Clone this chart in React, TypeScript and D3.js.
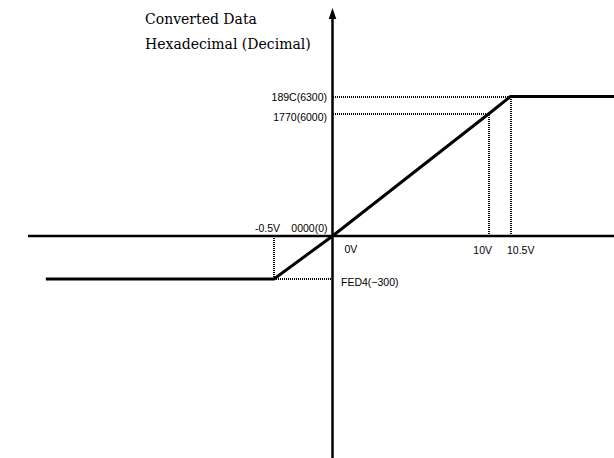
import React from "react";
import * as d3 from "d3";

// Input voltage (V) breakpoints of the conversion characteristic
const voltageIn = [-2.45, -0.5, 0, 10, 10.5, 13];
// Converted digital output (decimal) at each breakpoint
const outputVal = [-300, -300, 0, 6000, 6300, 6300];

// Reference markers on the voltage axis
const voltTicks = [-0.5, 10, 10.5];
const voltLabels = ["-0.5V", "10V", "10.5V"];

// Reference markers on the output axis
const outTicks = [6300, 6000, -300];
const outLabels = ["189C(6300)", "1770(6000)", "FED4(\u2212300)"];

const titleLines = ["Converted Data", "Hexadecimal (Decimal)"];

const W = 614;
const H = 458;

// Schematic (piecewise) scales: the diagram is not drawn to scale
const x = d3
  .scaleLinear()
  .domain([-0.5, 0, 10, 10.5])
  .range([274, 332.5, 488.5, 510.5]);

const y = d3
  .scaleLinear()
  .domain([-300, 0, 6000, 6300])
  .range([279, 236, 114, 96.5]);

const SANS = "'Liberation Sans', Arial, sans-serif";
const SERIF = "'DejaVu Serif', serif";

export default function App() {
  const x0 = x(0);
  const y0 = y(0);

  const pts: [number, number][] = voltageIn.map((v, i) => [x(v), y(outputVal[i])]);
  const line = d3.line<[number, number]>()(pts) ?? "";

  const dotted = {
    stroke: "#000",
    strokeWidth: 2,
    strokeDasharray: "1 1",
    fill: "none",
    shapeRendering: "crispEdges" as const,
  };

  // Points on the characteristic where guide lines are dropped
  const guides = voltTicks.map((v) => {
    const idx = voltageIn.indexOf(v);
    return { v, out: outputVal[idx] };
  });

  const r = Math.round;

  return (
    <svg
      width={W}
      height={H}
      style={{ position: "absolute", left: 0, top: 0, background: "#fff" }}
    >
      {/* title */}
      {titleLines.map((t, i) => (
        <text
          key={t}
          x={145}
          y={24 + i * 25}
          fontFamily={SERIF}
          fontSize={14}
          fill="#000"
        >
          {t}
        </text>
      ))}

      {/* guide lines */}
      {guides.map((g) => (
        <g key={g.v}>
          <line x1={r(x(g.v))} x2={r(x(g.v))} y1={r(y0)} y2={r(y(g.out))} {...dotted} />
          <line x1={r(x0)} x2={r(x(g.v))} y1={r(y(g.out))} y2={r(y(g.out))} {...dotted} />
        </g>
      ))}

      {/* axes */}
      <line x1={28} x2={W} y1={y0} y2={y0} stroke="#000" strokeWidth={2.5} />
      <line x1={x0} x2={x0} y1={16} y2={H} stroke="#000" strokeWidth={2.5} />
      <path
        d={`M${x0},8 L${x0 - 3.8},19 L${x0 + 3.8},19 Z`}
        fill="#000"
      />

      {/* characteristic */}
      <path d={line} fill="none" stroke="#000" strokeWidth={3} strokeLinejoin="miter" />

      {/* voltage labels */}
      <text x={x(-0.5) + 6} y={y0 - 4} textAnchor="end" fontFamily={SANS} fontSize={10.5}>
        {voltLabels[0]}
      </text>
      <text x={x(10) + 3.5} y={y0 + 18} textAnchor="end" fontFamily={SANS} fontSize={10.5}>
        {voltLabels[1]}
      </text>
      <text x={x(10.5) - 3.5} y={y0 + 18} textAnchor="start" fontFamily={SANS} fontSize={10.5}>
        {voltLabels[2]}
      </text>
      <text x={x0 + 12} y={y0 + 17} textAnchor="start" fontFamily={SANS} fontSize={10.5}>
        0V
      </text>

      {/* output labels */}
      <text x={x0 - 5} y={y0 - 4} textAnchor="end" fontFamily={SANS} fontSize={10.5}>
        0000(0)
      </text>
      <text x={x0 - 5.5} y={y(outTicks[0]) + 4.5} textAnchor="end" fontFamily={SANS} fontSize={10.5}>
        {outLabels[0]}
      </text>
      <text x={x0 - 5.5} y={y(outTicks[1]) + 6.5} textAnchor="end" fontFamily={SANS} fontSize={10.5}>
        {outLabels[1]}
      </text>
      <text x={x0 + 8.5} y={y(outTicks[2]) + 7} textAnchor="start" fontFamily={SANS} fontSize={10.5}>
        {outLabels[2]}
      </text>
    </svg>
  );
}
